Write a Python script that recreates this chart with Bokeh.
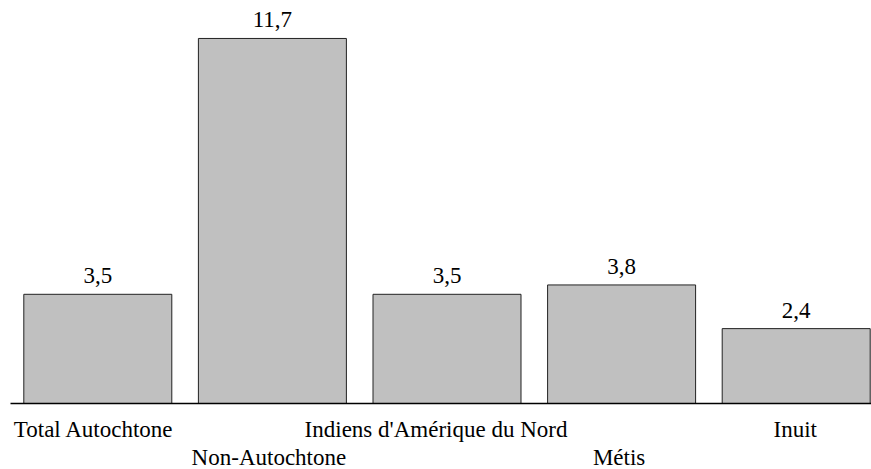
from bokeh.plotting import figure
from bokeh.models import ColumnDataSource, Range1d
from bokeh.core.properties import value
from bokeh.embed import file_html
from bokeh.resources import INLINE

categories = ["Total Autochtone", "Non-Autochtone", "Indiens d'Amérique du Nord", "Métis", "Inuit"]
values = [3.5, 11.7, 3.5, 3.8, 2.4]
value_labels = ["3,5", "11,7", "3,5", "3,8", "2,4"]

PX_PER_CAT = 174.6
PX_PER_UNIT = 31.2
W, H = 871, 469
LEFT_PAD = 10         # px from frame left edge to first category
BASE_PX = 403         # px from frame top to baseline
TXT_FIX = 9.5         # renderer draws alphabetic text this much lower
FONT = "Liberation Serif"
LABEL_NUDGE = [-4, -3.5, -11, -2.5, -1]   # small horizontal label shifts (px)

x = [i + 0.5 for i in range(len(categories))]
row_off = [35.5 - TXT_FIX if i % 2 == 0 else 63.5 - TXT_FIX for i in range(len(categories))]
label_y = [-o / PX_PER_UNIT for o in row_off]
label_x = [xi + n / PX_PER_CAT for xi, n in zip(x, LABEL_NUDGE)]
val_y = [v + (9 + TXT_FIX) / PX_PER_UNIT for v in values]

src = ColumnDataSource(dict(x=x, top=values, cat=categories, ly=label_y, lx=label_x,
                            vl=value_labels, vy=val_y))

p = figure(width=W, height=H, output_backend="svg", toolbar_location=None,
           x_range=Range1d(-LEFT_PAD / PX_PER_CAT, (W - LEFT_PAD) / PX_PER_CAT),
           y_range=Range1d(-(H - BASE_PX) / PX_PER_UNIT, BASE_PX / PX_PER_UNIT),
           min_border=0, min_border_left=0, min_border_right=0,
           min_border_top=0, min_border_bottom=0)
p.axis.visible = False
p.grid.visible = False
p.outline_line_color = None
p.background_fill_color = "white"
p.border_fill_color = "white"

p.vbar(x="x", top="top", bottom=0, width=148 / PX_PER_CAT, source=src,
       fill_color="#c0c0c0", line_color="#222222", line_width=1)

p.segment(x0=[0], y0=[0], x1=[len(categories)], y1=[0], line_color="black", line_width=1.5)

p.text(x="x", y="vy", text="vl", source=src, text_align="center",
       text_baseline="alphabetic", text_font=value(FONT),
       text_font_size="23px", text_color="black")
p.text(x="lx", y="ly", text="cat", source=src, text_align="center",
       text_baseline="alphabetic", text_font=value(FONT),
       text_font_size="23px", text_color="black")

open("out.html", "w").write(file_html(p, INLINE))
